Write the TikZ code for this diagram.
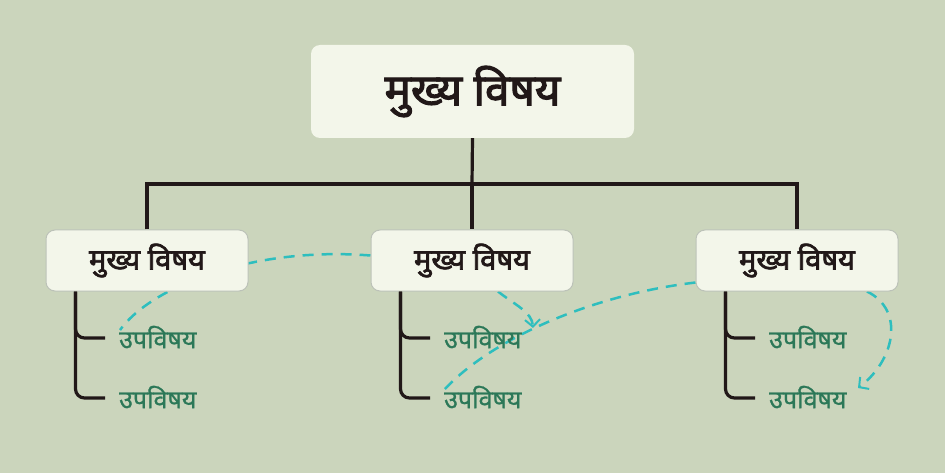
\documentclass[tikz,border=0pt]{standalone}
\usepackage{fontspec}
\newfontfamily\devfont[Script=Devanagari, FakeBold=1]{Noto Sans}
\newfontfamily\devbold[Script=Devanagari, FakeBold=2.5]{Noto Sans}
\usetikzlibrary{arrows.meta, backgrounds}
\definecolor{bgcol}{RGB}{203,213,188}
\definecolor{boxfill}{RGB}{243,246,234}
\definecolor{boxline}{RGB}{188,194,184}
\definecolor{inkcol}{RGB}{33,24,24}
\definecolor{subcol}{RGB}{44,120,88}
\definecolor{linkcol}{RGB}{46,190,190}

\begin{document}
\begin{tikzpicture}[x=1pt, y=-1pt,
      box/.style={fill=boxfill, rounded corners=9pt, inner sep=0pt, text=inkcol},
      rootbox/.style={box, minimum width=323pt, minimum height=93pt,
        font=\devbold\fontsize{44}{48}\selectfont},
      topic/.style={box, draw=boxline, line width=1pt, minimum width=202pt, minimum height=61pt,
        font=\devbold\fontsize{29}{33}\selectfont},
      sub/.style={anchor=west, inner xsep=0pt, inner ysep=2pt, text=subcol,
        font=\devfont\fontsize{25}{29}\selectfont},
      tree/.style={draw=inkcol, line width=3.2pt},
      link/.style={draw=linkcol, line width=2.5pt, dash pattern=on 11pt off 8pt,
        -{Straight Barb[length=7pt, width=15pt, line width=2pt]}}]
      \useasboundingbox (0,0) rectangle (945,473);
      % main topic and the three topics
      \node[rootbox] (root) at (472.5,91.5) {मुख्य विषय};
      \node[topic] (topicA) at (147,260.5) {मुख्य विषय};
      \node[topic] (topicB) at (472,260.5) {मुख्य विषय};
      \node[topic] (topicC) at (797,260.5) {मुख्य विषय};
      % subtopics
      \node[sub] (subA1) at (119,337) {उपविषय};
      \node[sub] (subA2) at (119,397) {उपविषय};
      \node[sub] (subB1) at (444,337) {उपविषय};
      \node[sub] (subB2) at (444,397) {उपविषय};
      \node[sub] (subC1) at (769,337) {उपविषय};
      \node[sub] (subC2) at (769,397) {उपविषय};
      % tree lines
      \coordinate (bus) at (472,184);
      \draw[tree] (root.south) -- (bus);
      \draw[tree] (topicA.north) -- (topicA.north |- bus) -- (topicC.north |- bus) -- (topicC.north);
      \draw[tree] (bus) -- (topicB.north);
      \foreach \t in {A,B,C}{
        \coordinate (stem\t) at ([xshift=30pt]topic\t.south west);
        \draw[tree, rounded corners=9pt] (stem\t) |- ([xshift=-14pt, yshift=-1pt]sub\t2.west);
        \draw[tree, rounded corners=9pt] (stem\t) |- ([xshift=-14pt, yshift=-1pt]sub\t1.west);
      }
      % links and background
      \begin{scope}[on background layer]
        \fill[bgcol] (0,0) rectangle (945,473);
        \draw[link, -] ([yshift=5pt]topicB.west) .. controls (250,246) and (150,288) .. ([xshift=1pt, yshift=7pt]subA1.west);
        \draw[link] ([xshift=26pt]topicB.south) .. controls (515,305) and (532,312) .. ([xshift=89pt, yshift=9pt]subB1.west);
        \draw[link, -] ([yshift=-22pt]topicC.west) .. controls (590,295) and (490,340) .. ([yshift=7pt]subB2.west);
        \draw[link] ([xshift=70pt]topicC.south) .. controls (905,310) and (895,360) .. ([xshift=89pt, yshift=9pt]subC2.west);
      \end{scope}
    \end{tikzpicture}
\end{document}
